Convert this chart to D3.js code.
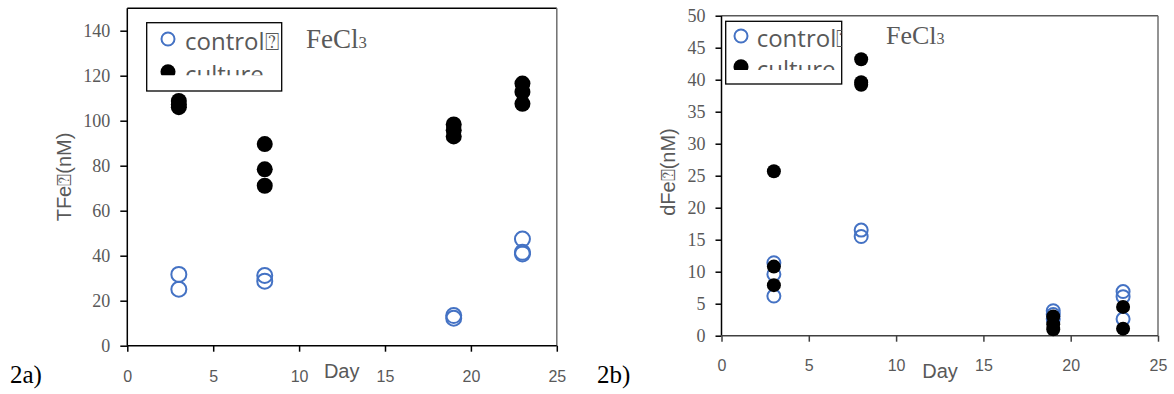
<!DOCTYPE html>
<html>
<head>
<meta charset="utf-8">
<script src="https://cdn.jsdelivr.net/npm/d3@7"></script>
<style>
  body { margin: 0; background: #fff; }
  .axisTitle { font-family: "Liberation Sans", Arial, sans-serif; fill: #595959; }
  .legendText { font-family: "Open Sans", sans-serif; font-size: 24px; fill: #595959; }
  .fecl { font-family: "Liberation Serif", "Times New Roman", serif; fill: #595959; }
  .panelTag { font-family: "Liberation Serif", "Times New Roman", serif; font-size: 25px; fill: #000; }
  .yTickText { font-family: "Liberation Serif", "Times New Roman", serif; font-size: 18px; fill: #595959; }
  .xTickText { font-family: "Liberation Sans", Arial, sans-serif; font-size: 16px; fill: #595959; }
</style>
</head>
<body>
<div id="chart"></div>
<script>
// day ticks shared by both panels
const dayTicks = [0, 5, 10, 15, 20, 25];

// 2a) total Fe (nM)
const tfeTicks = [0, 20, 40, 60, 80, 100, 120, 140];
const tfeControl = [[3, 31.7], [3, 25.1], [8, 31.2], [8, 28.7], [19, 13.4], [19, 12.2], [23, 47.4], [23, 41.5], [23, 40.8]];
const tfeCulture = [[3, 108.8], [3, 107.2], [3, 106.0], [8, 89.6], [8, 78.4], [8, 71.1], [19, 98.3], [19, 95.8], [19, 93.0], [23, 116.5], [23, 112.8], [23, 107.5]];

// 2b) dissolved Fe (nM)
const dfeTicks = [0, 5, 10, 15, 20, 25, 30, 35, 40, 45, 50];
const dfeControl = [[3, 11.4], [3, 9.6], [3, 6.2], [8, 16.5], [8, 15.5], [19, 3.9], [19, 3.3], [19, 2.6], [23, 6.9], [23, 6.1], [23, 2.6]];
const dfeCulture = [[3, 25.7], [3, 10.8], [3, 7.9], [8, 43.2], [8, 39.6], [8, 39.2], [19, 3.0], [19, 1.8], [19, 1.0], [23, 4.5], [23, 1.1]];

const svg = d3.select("#chart").append("svg")
  .attr("width", 1174)
  .attr("height", 394);

function scatterPanel(cfg) {
  const x = d3.scaleLinear().domain([0, 25]).range([cfg.left, cfg.right]);
  const y = d3.scaleLinear().domain([0, cfg.yMax]).range([cfg.bottom, cfg.top]);

  // frame (top / right)
  svg.append("line")
    .attr("x1", cfg.left).attr("x2", cfg.right)
    .attr("y1", cfg.top).attr("y2", cfg.top)
    .attr("stroke", cfg.topColor).attr("stroke-width", 1.5);
  svg.append("line")
    .attr("x1", cfg.right).attr("x2", cfg.right)
    .attr("y1", cfg.top).attr("y2", cfg.bottom)
    .attr("stroke", "#6f6f6f").attr("stroke-width", 1.5);

  // Y axis, serif labels
  const yAxis = svg.append("g")
    .attr("transform", "translate(" + cfg.left + ",0)")
    .call(d3.axisLeft(y).tickValues(cfg.yTicks).tickSize(cfg.yTick).tickPadding(cfg.yPad));
  yAxis.selectAll("text").attr("class", "yTickText").attr("fill", null);
  yAxis.selectAll("line, path").attr("stroke", "#000").attr("stroke-width", 1.5);
  yAxis.select(".domain").attr("d", "M0," + cfg.top + "V" + cfg.bottom);

  // X axis, sans labels
  const xAxis = svg.append("g")
    .attr("transform", "translate(0," + cfg.bottom + ")")
    .call(d3.axisBottom(x).tickValues(dayTicks).tickSize(6).tickPadding(cfg.xPad));
  xAxis.selectAll("text").attr("class", "xTickText").attr("fill", null);
  xAxis.selectAll("line, path").attr("stroke", cfg.xColor).attr("stroke-width", 1.5);
  xAxis.select(".domain").attr("d", "M" + cfg.left + ",0H" + cfg.right);

  // axis titles
  svg.append("text")
    .attr("class", "axisTitle")
    .attr("x", cfg.dayX).attr("y", 378)
    .attr("text-anchor", "middle")
    .style("font-size", "20px")
    .text("Day");

  svg.append("text")
    .attr("class", "axisTitle")
    .attr("transform", "translate(" + cfg.yLabelX + "," + cfg.yLabelY + ") rotate(-90)")
    .attr("text-anchor", "middle")
    .attr("dy", "0.35em")
    .style("font-size", "20px")
    .text(cfg.yLabel);

  // points: control first, culture on top
  svg.append("g").selectAll("circle")
    .data(cfg.control)
    .join("circle")
    .attr("cx", d => x(d[0]))
    .attr("cy", d => y(d[1]))
    .attr("r", cfg.r - 0.5)
    .attr("fill", "none")
    .attr("stroke", "#4472C4")
    .attr("stroke-width", 2);

  svg.append("g").selectAll("circle")
    .data(cfg.culture)
    .join("circle")
    .attr("cx", d => x(d[0]))
    .attr("cy", d => y(d[1]))
    .attr("r", cfg.r)
    .attr("fill", "#000");

  // legend, second entry cut off by its clip
  const lg = cfg.legend;
  svg.append("clipPath").attr("id", cfg.id + "clip")
    .append("rect")
    .attr("x", lg.x).attr("y", lg.y)
    .attr("width", lg.w).attr("height", lg.clip - lg.y);

  svg.append("rect")
    .attr("x", lg.x).attr("y", lg.y)
    .attr("width", lg.w).attr("height", lg.h)
    .attr("fill", "#fff")
    .attr("stroke", "#000").attr("stroke-width", 1.3);

  const lgG = svg.append("g").attr("clip-path", "url(#" + cfg.id + "clip)");
  lgG.append("circle")
    .attr("cx", lg.mx).attr("cy", lg.row1)
    .attr("r", 6.5).attr("fill", "none")
    .attr("stroke", "#4472C4").attr("stroke-width", 2);
  lgG.append("text").attr("class", "legendText")
    .attr("x", lg.tx).attr("y", lg.row1 + 11)
    .text("control\u2370");
  lgG.append("circle")
    .attr("cx", lg.mx).attr("cy", lg.row2)
    .attr("r", 7.5).attr("fill", "#000");
  lgG.append("text").attr("class", "legendText")
    .attr("x", lg.tx).attr("y", lg.row2 + 11)
    .text("culture");

  // FeCl3 note
  const fe = svg.append("text").attr("class", "fecl")
    .attr("x", cfg.feX).attr("y", cfg.feY)
    .style("font-size", cfg.feSize + "px")
    .text("FeCl");
  fe.append("tspan").style("font-size", (cfg.feSize * 0.62) + "px").text("3");

  // panel tag
  svg.append("text").attr("class", "panelTag")
    .attr("x", cfg.tagX).attr("y", 383)
    .text(cfg.tag);
}

scatterPanel({
  id: "a", tag: "2a)", tagX: 10,
  left: 127.3, right: 556.8, top: 8.2, bottom: 345.7,
  yMax: 150, yTicks: tfeTicks, yTick: 7, yPad: 10,
  control: tfeControl, culture: tfeCulture, r: 8,
  topColor: "#000", xColor: "#000", xPad: 19,
  dayX: 341.7, yLabelX: 64, yLabelY: 177, yLabel: "TFe\u2370(nM)",
  feX: 306, feY: 48, feSize: 27,
  legend: { x: 146.7, y: 22.7, w: 135, h: 68.3, clip: 75.3, mx: 168, tx: 185, row1: 39, row2: 71.7 }
});

scatterPanel({
  id: "b", tag: "2b)", tagX: 597,
  left: 721.5, right: 1158, top: 15.7, bottom: 335.7,
  yMax: 50, yTicks: dfeTicks, yTick: 6, yPad: 10,
  control: dfeControl, culture: dfeCulture, r: 7,
  topColor: "#595959", xColor: "#404040", xPad: 18,
  dayX: 940, yLabelX: 668, yLabelY: 172, yLabel: "dFe\u2370(nM)",
  feX: 886, feY: 44, feSize: 26,
  legend: { x: 725.7, y: 21.3, w: 116, h: 62.7, clip: 70, mx: 741, tx: 756.7, row1: 36, row2: 66.7 }
});
</script>
</body>
</html>
